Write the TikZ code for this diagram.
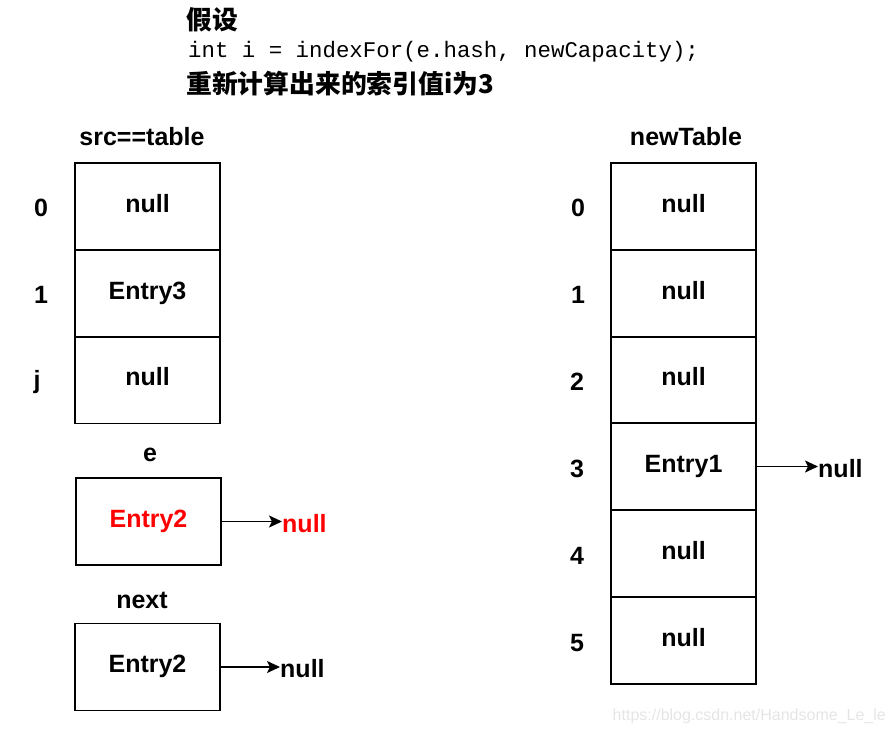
\documentclass[tikz,border=0pt]{standalone}
\usepackage{fontspec}
\setmainfont{Liberation Sans}
\setmonofont{Liberation Mono}
\newfontfamily\cjk{Noto Sans CJK SC}
\usetikzlibrary{arrows.meta}
\tikzset{
  cell/.style={draw=black,line width=1.3pt,minimum width=145pt,minimum height=87pt,inner sep=0pt,
    text height=17pt,text depth=6pt,
    font=\fontsize{25}{29}\selectfont\bfseries},
  lbl/.style={font=\fontsize{25}{29}\selectfont\bfseries,inner sep=0pt},
  ptrline/.style={line width=1.8pt,arrows={-Stealth[length=13pt,width=12pt,inset=3pt]}}
}
\begin{document}
\begin{tikzpicture}[x=1pt,y=-1pt]
\useasboundingbox (0,0) rectangle (894,734);
% header
\node[anchor=west,inner sep=0pt,font=\cjk\bfseries\fontsize{25.8}{29}\selectfont] (h1) at (186,20) {假设};
\node[anchor=west,inner sep=0pt,font=\ttfamily\fontsize{22.4}{26}\selectfont] (h2) at (188,52) {int i = indexFor(e.hash, newCapacity);};
\node[anchor=west,inner sep=0pt,font=\cjk\bfseries\fontsize{25.8}{29}\selectfont] (h3) at (186,84) {重新计算出来的索引值i为3};
% left table
\node[lbl] (srct) at (142,137) {src==table};
\node[cell] (l0) at (147.5,206.5) {null};
\node[cell] (l1) at (147.5,293.5) {Entry3};
\node[cell] (l2) at (147.5,380) {null};
\node[lbl] (li0) at (41,208) {0};
\node[lbl] (li1) at (41,295) {1};
\node[lbl] (li2) at (37,382) {j};
% e
\node[lbl] (elab) at (150,455) {e};
\node[cell,text=red] (ebox) at (148.5,521.5) {Entry2};
\node[lbl,text=red,anchor=west] (enull) at (282,524) {null};
\draw[ptrline] (ebox.east) -- (ebox.east -| enull.west);
% next
\node[lbl] (nlab) at (142,600) {next};
\node[cell] (nbox) at (147.5,667) {Entry2};
\node[lbl,anchor=west] (nnull) at (280,669) {null};
\draw[ptrline] (nbox.east) -- (nbox.east -| nnull.west);
% right table
\node[lbl] (newt) at (686,137) {newTable};
\node[cell] (r0) at (683.5,206.5) {null};
\node[cell] (r1) at (683.5,293.5) {null};
\node[cell] (r2) at (683.5,380) {null};
\node[cell] (r3) at (683.5,466.5) {Entry1};
\node[cell] (r4) at (683.5,553.5) {null};
\node[cell] (r5) at (683.5,640.5) {null};
\node[lbl] (ri0) at (578,208) {0};
\node[lbl] (ri1) at (578,295) {1};
\node[lbl] (ri2) at (577,382) {2};
\node[lbl] (ri3) at (577,469) {3};
\node[lbl] (ri4) at (577,556) {4};
\node[lbl] (ri5) at (577,643) {5};
\node[lbl,anchor=west] (rnull) at (818,469) {null};
\draw[ptrline] (r3.east) -- (r3.east -| rnull.west);
% watermark
\node[anchor=east,inner sep=0pt,text=black!10,font=\fontsize{16}{19}\selectfont] (wm) at (886,716) {https://blog.csdn.net/Handsome\_Le\_le};
\end{tikzpicture}
\end{document}
